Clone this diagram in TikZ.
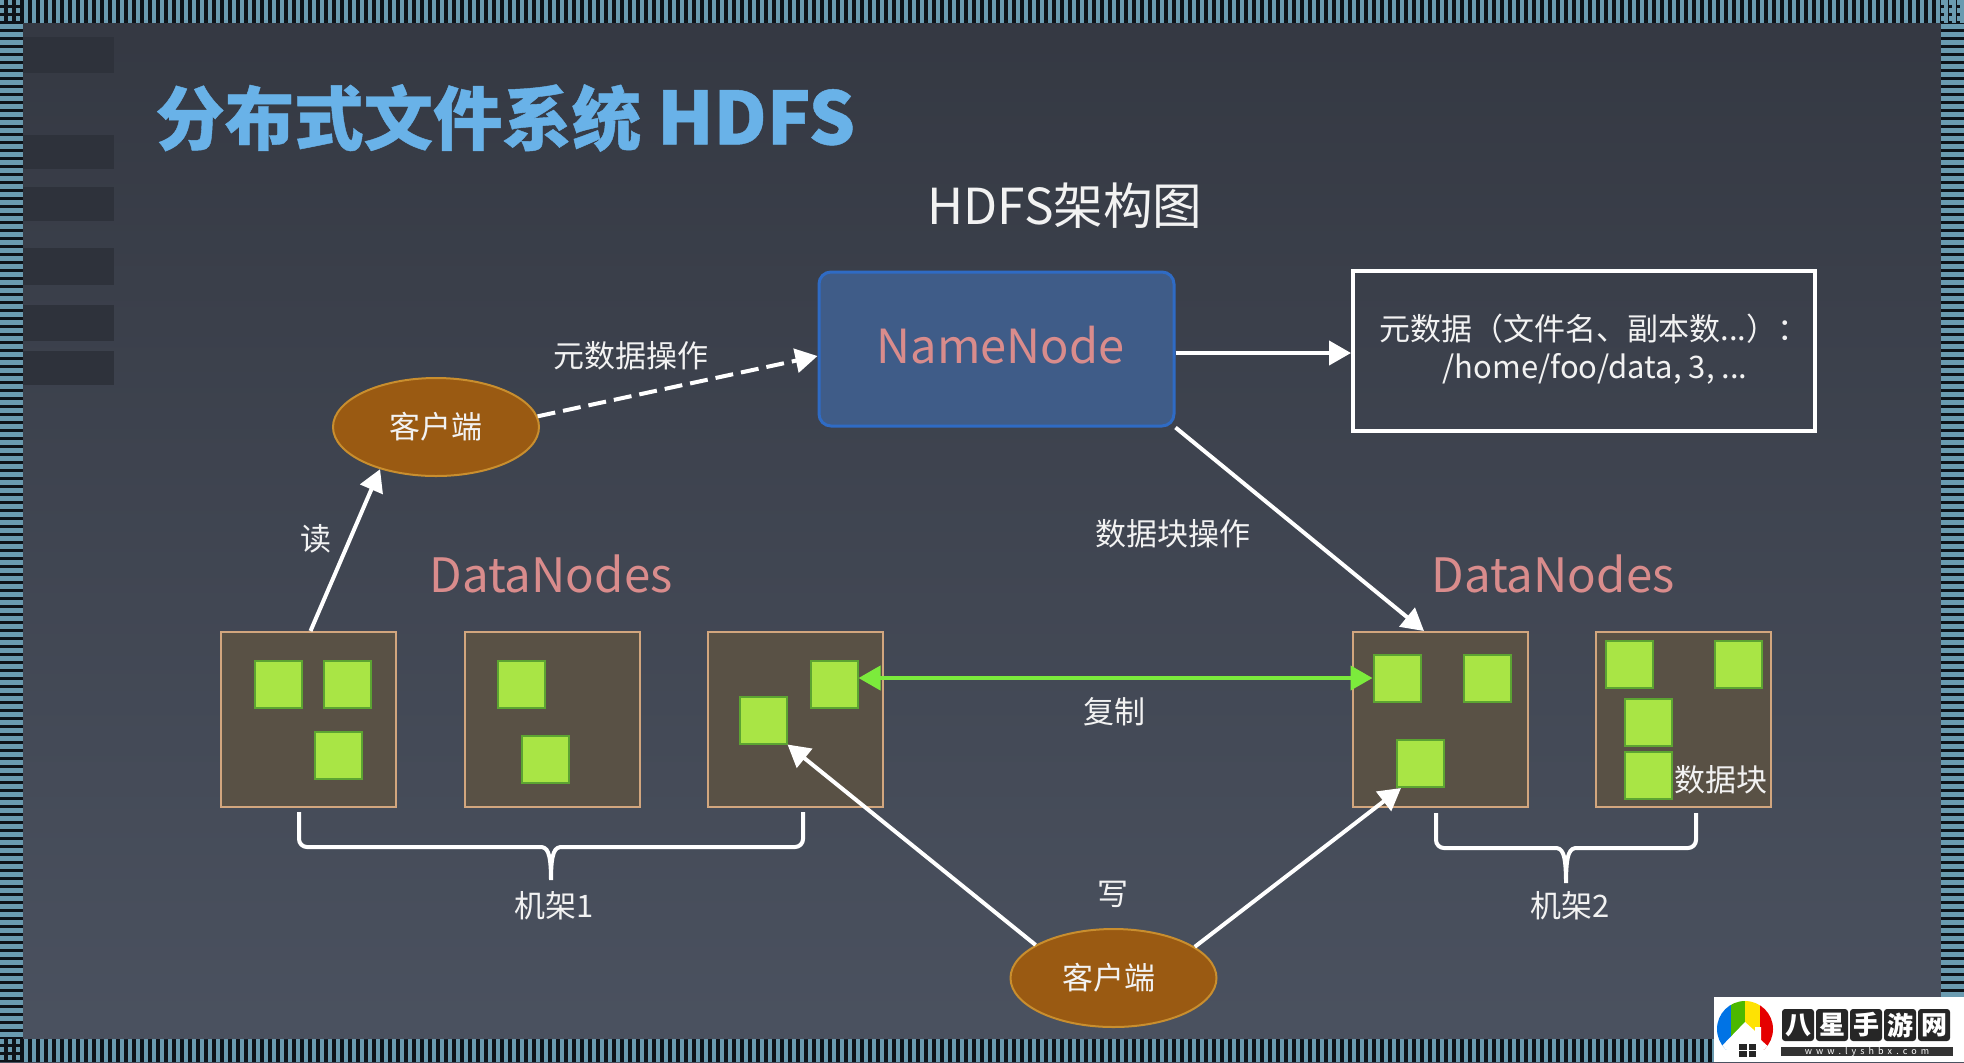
\documentclass[tikz,border=0pt]{standalone}
\usepackage{fontspec}
\setmainfont{Noto Sans CJK SC}
\newfontfamily\titlefont{Noto Sans CJK SC}[BoldFeatures={FakeBold=0.6}]
\usetikzlibrary{arrows.meta,shapes.geometric}
\definecolor{stripeblue}{HTML}{6A9BB0}
\definecolor{stripedark}{HTML}{0D1319}
\definecolor{bgtop}{HTML}{343842}
\definecolor{bgbot}{HTML}{4B5260}
\definecolor{panel}{HTML}{2E323B}
\definecolor{titleblue}{HTML}{69B2E8}
\definecolor{pink}{HTML}{D98C8C}
\definecolor{rackfill}{HTML}{595145}
\definecolor{rackline}{HTML}{D2A67E}
\definecolor{blockfill}{HTML}{A9E545}
\definecolor{blockline}{HTML}{5CA432}
\definecolor{clientfill}{HTML}{9A5A12}
\definecolor{clientline}{HTML}{C98E2E}
\definecolor{nnfill}{HTML}{3F5C88}
\definecolor{nnline}{HTML}{2F6BC4}
\definecolor{copygreen}{HTML}{7CEB3C}
\definecolor{textwhite}{HTML}{F2F2F2}
\tikzset{
  rackbox/.style={draw=rackline,fill=rackfill,line width=1pt,minimum width=87.5pt,minimum height=87.5pt,inner sep=0pt},
  blockbox/.style={draw=blockline,fill=blockfill,line width=1pt,minimum width=23.5pt,minimum height=23.5pt,inner sep=0pt},
  clientnode/.style={ellipse,draw=clientline,fill=clientfill,line width=1pt,minimum width=103pt,minimum height=49pt,inner sep=0pt,text=textwhite,font=\fontsize{15.5}{18}\selectfont},
  lbl/.style={text=textwhite,inner sep=0pt,font=\fontsize{15.5}{18}\selectfont},
  dnlabel/.style={text=pink,inner sep=0pt,font=\fontsize{23.7}{28}\selectfont},
  link/.style={draw=white,line width=2pt,-{Triangle[length=11pt,width=12pt]}},
  brace/.style={draw=white,line width=2pt,rounded corners=4pt},
  badge/.style={fill=black!85,rounded corners=1.5pt,minimum width=16pt,minimum height=16pt,inner sep=0pt,text=white,font=\fontsize{13}{13}\bfseries\selectfont},
}
\begin{document}
\begin{tikzpicture}[x=0.5pt,y=-0.5pt]
\useasboundingbox (0,0) rectangle (1964,1062);
\begin{scope}
\clip (0,0) rectangle (1964,1062);
\shade[top color=bgtop,bottom color=bgbot] (0,0) rectangle (1964,1062);
% left panels
\foreach \a/\b in {37/73,135/169,187/221,248/285,305/341,351/385}
  \fill[panel] (23,\a) rectangle (114,\b);
% stripes
\fill[stripedark] (0,0) rectangle (1964,23);
\fill[stripedark] (0,1039) rectangle (1964,1062);
\fill[stripedark] (0,0) rectangle (23,1062);
\fill[stripedark] (1941,0) rectangle (1964,1062);
\foreach \i in {3,...,245}{
  \fill[stripeblue] (8*\i,0) rectangle ++(4,23);
  \fill[stripeblue] (8*\i,1039) rectangle ++(4,23);
}
\foreach \i in {3,...,129}{
  \fill[stripeblue] (0,8*\i) rectangle ++(23,5);
  \fill[stripeblue] (1941,8*\i) rectangle ++(23,5);
}
\foreach \i in {0,1,2}\foreach \j in {0,1,2}{
  \fill[stripeblue] (8*\i,8*\j) rectangle ++(4,5);
  \fill[stripeblue] (1941+8*\i,8*\j) rectangle ++(4,5);
  \fill[stripeblue] (8*\i,1039+8*\j) rectangle ++(4,5);
}
\end{scope}
% titles
\node[anchor=west,inner sep=0pt,text=titleblue,font=\titlefont\fontsize{34.7}{40}\bfseries\selectfont] (title) at (155,118) {分布式文件系统 {\fontsize{36.5}{40}\selectfont HDFS}};
\node[inner sep=0pt,text=textwhite,font=\fontsize{24.8}{30}\selectfont] (subtitle) at (1065,206) {HDFS架构图};
% top nodes
\node[draw=nnline,fill=nnfill,line width=1.5pt,rounded corners=6pt,minimum width=177.5pt,minimum height=77pt,inner sep=0pt] (nn) at (996.5,349) {};
\node[inner sep=0pt,text=pink,font=\fontsize{23.5}{28}\selectfont] (nntext) at (1000.5,345.5) {NameNode};
\node[draw=white,line width=2pt,minimum width=231pt,minimum height=80pt,inner sep=0pt] (meta) at (1584,351) {};
\node[lbl] (meta1) at (1594,329) {元数据（文件名、副本数...）：};
\node[lbl] (meta2) at (1595,369) {/home/foo/data, 3, ...};
\node[clientnode] (c1) at (436,427) {客户端};
\node[clientnode] (c2) at (1113.5,978) {\kern-5pt 客户端};
% racks
\node[rackbox] (r1) at (308.5,719.5) {};
\node[rackbox] (r2) at (552.5,719.5) {};
\node[rackbox] (r3) at (795.5,719.5) {};
\node[rackbox] (r4) at (1440,719.5) {};
\node[rackbox] (r5) at (1683.5,719.5) {};
% blocks
\node[blockbox] (s11) at (278,684) {};
\node[blockbox] (s12) at (347,684) {};
\node[blockbox] (s13) at (338,755.5) {};
\node[blockbox] (s21) at (521,684) {};
\node[blockbox] (s22) at (545,759) {};
\node[blockbox] (s31) at (834,684) {};
\node[blockbox] (s32) at (763,720) {};
\node[blockbox] (s41) at (1397,678) {};
\node[blockbox] (s42) at (1487,678) {};
\node[blockbox] (s43) at (1420.5,763.5) {};
\node[blockbox] (s51) at (1629.5,664.5) {};
\node[blockbox] (s52) at (1738.5,664.5) {};
\node[blockbox] (s53) at (1648,722.5) {};
\node[blockbox] (s54) at (1648,775.5) {};
% labels
\node[lbl] (l1) at (631,356) {元数据操作};
\node[lbl] (l2) at (316,539) {读};
\node[dnlabel] (dn1) at (551,574) {DataNodes};
\node[dnlabel] (dn2) at (1553,574) {DataNodes};
\node[lbl] (l3) at (1173,534) {数据块操作};
\node[lbl] (l4) at (1114,712) {复制};
\node[lbl] (l5) at (1113,894) {写};
\node[lbl] (l6) at (554.5,906) {机架1};
\node[lbl] (l7) at (1570,906) {机架2};
\node[lbl] (l8) at (1721,780) {数据块};
% connectors
\draw[link] ([yshift=-2pt]nn.east) -- ([yshift=-1pt]meta.west);
\draw[link,dash pattern=on 9pt off 4pt] (c1.6) -- ([yshift=-3.5pt]nn.west);
\draw[link] ([xshift=1pt]r1.north) -- (c1.217.5);
\draw[link] (nn.south east) -- ([xshift=-8pt]r4.north);
\draw[draw=copygreen,line width=2pt,{Triangle[length=11pt,width=12pt]}-{Triangle[length=11pt,width=12pt]}] ([yshift=3pt]s31.east) -- (s41.west);
\draw[link] (c2.157) -- (s32.south east);
\draw[link] (c2.21) -- ([xshift=2.5pt]s43.south west);
% braces
\coordinate (b1a) at (299,812); \coordinate (b1b) at (803,812); \coordinate (b1m) at (551,880);
\coordinate (b2a) at (1436,813); \coordinate (b2b) at (1696,813); \coordinate (b2m) at (1566,883);
\draw[brace] (b1a) -- (299,847) -- (540,847);
\draw[brace] (b1b) -- (803,847) -- (562,847);
\draw[draw=white,line width=2pt] (540,847) .. controls (547,847) and (551,851) .. (b1m) (562,847) .. controls (555,847) and (551,851) .. (b1m);
\draw[brace] (b2a) -- (1436,848) -- (1555,848);
\draw[brace] (b2b) -- (1696,848) -- (1577,848);
\draw[draw=white,line width=2pt] (1555,848) .. controls (1562,848) and (1566,852) .. (b2m) (1577,848) .. controls (1570,848) and (1566,852) .. (b2m);
% watermark
\fill[white] (1714,997) rectangle (1964,1062);
\begin{scope}
\clip (1745,1029) circle (28);
\fill[white] (1715,997) rectangle (1775,1050);
\fill[blue!50!cyan!90!black] (1715,997) rectangle (1731,1050);
\fill[green!60!black!70!yellow] (1731,997) rectangle (1745,1050);
\fill[yellow!85!orange] (1745,997) rectangle (1760,1050);
\fill[red!90!black] (1760,997) rectangle (1775,1050);
\fill[white] (1745,1022) -- (1718,1050) -- (1718,1062) -- (1772,1062) -- (1772,1050) -- (1761,1040) -- (1761,1027) -- (1755,1027) -- (1755,1031) -- cycle;
\end{scope}
\foreach \a in {1739,1748.5}\foreach \b in {1044,1051}
  \fill[black!85] (\a,\b) rectangle ++(7.5,6);
\node[badge] (w1) at (1798,1025) {八};
\node[badge] (w2) at (1832,1025) {星};
\node[badge] (w3) at (1866,1025) {手};
\node[badge] (w4) at (1900,1025) {游};
\node[badge] (w5) at (1934,1025) {网};
\node[fill=black!80,text=white,inner sep=0pt,minimum width=86pt,minimum height=4.5pt,font=\fontsize{4.5}{4.5}\selectfont] (w6) at (1867,1051.5) {w\ \ w\ \ w\ \ .\ \ l\ \ y\ \ s\ \ h\ \ b\ \ x\ \ .\ \ c\ \ o\ \ m};
\end{tikzpicture}
\end{document}
